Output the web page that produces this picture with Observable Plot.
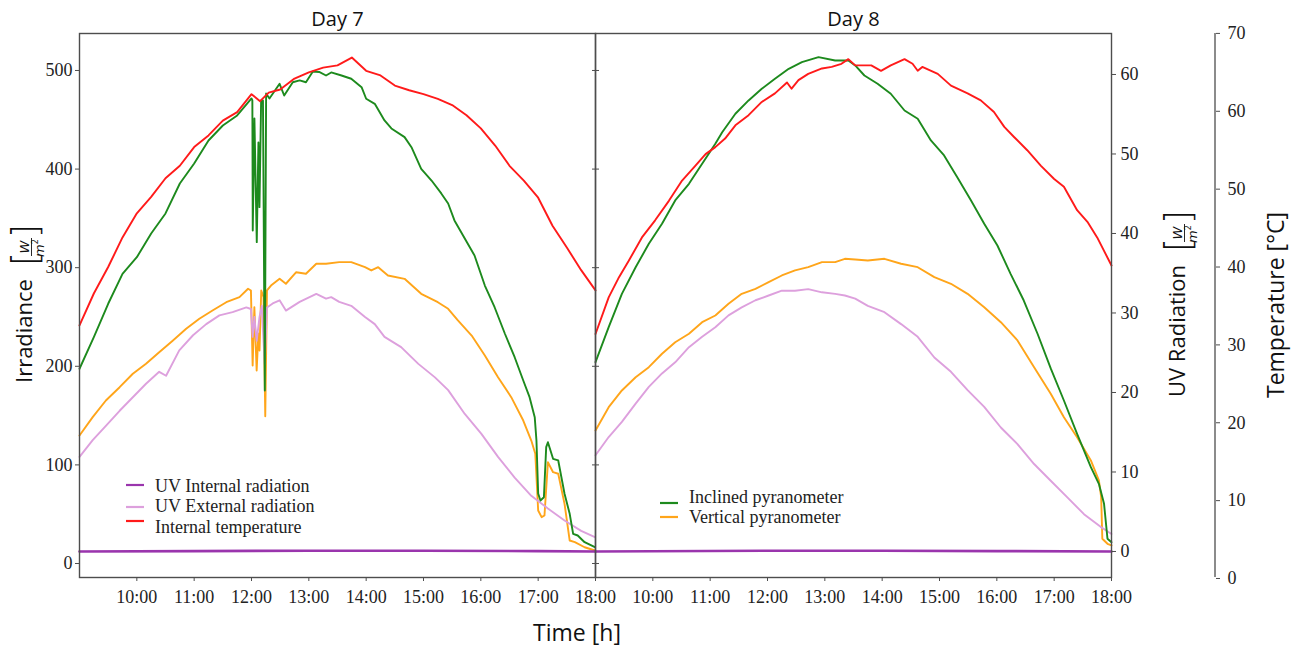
<!DOCTYPE html>
<html>
<head>
<meta charset="utf-8">
<script src="https://cdn.jsdelivr.net/npm/d3@7"></script>
<script src="https://cdn.jsdelivr.net/npm/@observablehq/plot@0.6"></script>
<style>
html,body{margin:0;padding:0;background:#fff;}
#chart{width:1299px;height:648px;}
</style>
</head>
<body>
<div id="chart"></div>
<script>
// ---------- categories ----------
const dayNames = ["Day 7", "Day 8"];
const seriesNames = ["UV Internal radiation", "UV External radiation", "Internal temperature", "Inclined pyranometer", "Vertical pyranometer"];
const seriesColors = ["#9a35ad", "#dda0dd", "#ff1a1a", "#1d8a1d", "#ffa51a"];
const leftLegend = ["UV Internal radiation", "UV External radiation", "Internal temperature"];
const rightLegend = ["Inclined pyranometer", "Vertical pyranometer"];

// ---------- tick labels ----------
const timeTicks = [10, 11, 12, 13, 14, 15, 16, 17, 18];
const irradianceTicks = [0, 100, 200, 300, 400, 500];
const uvTicks = [0, 10, 20, 30, 40, 50, 60];
const temperatureTicks = [0, 10, 20, 30, 40, 50, 60, 70];

// ---------- Day 7 series: [hour, value] ----------
// Internal temperature [°C]
const day7Temperature = [[9,32.5],[9.25,36.6],[9.5,40.0],[9.75,43.8],[10,46.9],[10.25,49.0],[10.5,51.4],[10.75,53.0],[11,55.4],[11.25,56.9],[11.5,58.8],[11.75,59.9],[12,62.2],[12.15,61.3],[12.3,62.4],[12.5,62.8],[12.75,64.2],[13,65.0],[13.25,65.6],[13.5,65.9],[13.75,66.9],[14,65.2],[14.25,64.6],[14.5,63.3],[14.75,62.7],[15,62.2],[15.25,61.6],[15.5,60.8],[15.75,59.5],[16,57.8],[16.25,55.6],[16.5,53.0],[16.75,51.1],[17,48.9],[17.25,45.3],[17.5,42.5],[17.75,39.6],[18,37.0]];
// Inclined pyranometer [W/m2]
const day7Inclined = [[9,197.5],[9.25,229.5],[9.5,263.4],[9.75,293.8],[10,310.6],[10.25,334.7],[10.5,355.0],[10.75,385.4],[11,405.7],[11.25,429.0],[11.5,444.2],[11.75,454.4],[12,471.6],[12.015,469.6],[12.022,337.7],[12.051,451.3],[12.092,325.9],[12.121,427.0],[12.139,361.4],[12.168,469.6],[12.2,469.6],[12.232,175.5],[12.255,476.7],[12.313,471.6],[12.49,486.5],[12.57,474.6],[12.72,488.1],[12.84,489.9],[12.95,488.1],[13.07,499.0],[13.18,498.5],[13.3,494.9],[13.39,498.0],[13.57,494.9],[13.74,491.6],[13.92,483.1],[14,471.3],[14.15,466.2],[14.32,449.3],[14.44,441.2],[14.67,432.4],[14.79,422.2],[14.96,400.3],[15.14,388.4],[15.31,375.3],[15.43,365.1],[15.54,347.9],[15.72,329.6],[15.89,312.4],[16.07,281.9],[16.24,259.9],[16.42,233.0],[16.59,209.2],[16.74,185.6],[16.85,168.7],[16.94,148.4],[16.97,124.7],[17,71.0],[17.04,63.9],[17.1,67.2],[17.14,118.0],[17.17,123.0],[17.26,106.2],[17.35,104.5],[17.46,70.7],[17.55,50.4],[17.61,30.1],[17.69,28.4],[17.81,21.6],[17.99,16.5]];
// Vertical pyranometer [W/m2]
const day7Vertical = [[9,129.8],[9.23,148.4],[9.46,165.3],[9.7,178.8],[9.93,192.4],[10.16,202.5],[10.39,214.3],[10.63,226.2],[10.86,238.0],[11.09,248.2],[11.32,256.6],[11.56,265.0],[11.79,270.1],[11.94,278.6],[11.99,276.9],[12.02,200.8],[12.05,259.9],[12.09,195.7],[12.12,233.3],[12.14,216.0],[12.17,276.9],[12.21,270.1],[12.24,149.4],[12.27,276.9],[12.34,281.9],[12.49,288.7],[12.6,283.7],[12.78,295.4],[12.95,293.8],[13.13,304.0],[13.3,304.0],[13.53,305.6],[13.74,305.6],[13.98,300.5],[14.09,297.2],[14.21,300.5],[14.38,292.1],[14.67,288.7],[14.96,273.5],[15.25,265.0],[15.43,258.3],[15.6,246.5],[15.84,231.2],[16.07,211.0],[16.3,188.9],[16.53,168.7],[16.74,145.0],[16.88,124.7],[16.95,111.3],[17,53.8],[17.06,47.0],[17.11,48.7],[17.17,102.7],[17.26,92.6],[17.35,91.0],[17.46,60.5],[17.55,23.3],[17.64,21.6],[17.81,16.5],[17.99,13.2]];
// UV external radiation [W/m2]
const day7UvExternal = [[9,11.9],[9.23,14.0],[9.46,15.8],[9.7,17.7],[9.93,19.4],[10.16,21.1],[10.39,22.6],[10.51,22.1],[10.74,25.3],[10.98,27.2],[11.21,28.6],[11.44,29.7],[11.67,30.1],[11.91,30.7],[11.99,30.5],[12.02,27.0],[12.05,29.5],[12.09,26.5],[12.14,29.5],[12.18,30.9],[12.23,23.6],[12.27,30.7],[12.37,31.2],[12.49,31.6],[12.6,30.3],[12.84,31.4],[13.13,32.4],[13.3,31.8],[13.39,32.0],[13.53,31.4],[13.74,30.9],[13.98,29.5],[14.15,28.6],[14.32,27.0],[14.61,25.7],[14.91,23.6],[15.2,21.9],[15.43,20.3],[15.72,17.3],[16.01,14.8],[16.3,11.9],[16.59,9.3],[16.88,7.0],[17.17,5.4],[17.46,3.9],[17.75,2.6],[17.99,1.8]];
// UV internal radiation [W/m2]
const day7UvInternal = [[9,0],[11,0.05],[13,0.1],[15,0.1],[17,0.05],[18,0]];

// ---------- Day 8 series ----------
const day8Temperature = [[9,31.4],[9.23,36.1],[9.41,38.7],[9.58,40.8],[9.81,43.8],[10.04,46.0],[10.28,48.5],[10.51,51.1],[10.74,53.0],[10.92,54.5],[11.09,55.4],[11.26,56.5],[11.44,58.2],[11.67,59.5],[11.9,61.2],[12.13,62.3],[12.34,63.7],[12.42,62.9],[12.54,64.0],[12.71,64.8],[12.95,65.5],[13.12,65.7],[13.29,66.1],[13.41,66.7],[13.53,65.9],[13.63,65.9],[13.81,65.9],[13.98,65.2],[14.15,65.9],[14.39,66.7],[14.53,66.1],[14.62,65.2],[14.7,65.7],[14.97,64.8],[15.2,63.3],[15.49,62.3],[15.72,61.4],[15.95,59.9],[16.13,58.0],[16.3,56.7],[16.53,55.0],[16.77,53.0],[17,51.3],[17.17,50.3],[17.4,47.3],[17.58,45.8],[17.75,43.8],[18,40.2]];
const day8Inclined = [[9,204.2],[9.23,239.7],[9.46,273.5],[9.7,300.5],[9.93,324.2],[10.16,344.5],[10.39,368.2],[10.63,385.1],[10.86,405.4],[11.09,425.7],[11.21,437.4],[11.44,456.1],[11.67,469.6],[11.9,481.4],[12.13,491.6],[12.37,501.7],[12.6,508.4],[12.89,513.5],[13.18,510.1],[13.41,510.1],[13.53,505.1],[13.69,494.9],[13.92,486.5],[14.15,476.4],[14.39,459.4],[14.62,451.0],[14.85,429.0],[15.08,413.8],[15.31,391.8],[15.55,368.2],[15.78,344.5],[16.01,322.5],[16.24,293.8],[16.47,266.7],[16.71,233.0],[16.94,197.8],[17.17,165.3],[17.4,131.5],[17.64,97.7],[17.78,80.8],[17.87,60.5],[17.93,25.1],[18,21.6]];
const day8Vertical = [[9,134.9],[9.23,158.5],[9.46,175.5],[9.7,188.9],[9.93,199.1],[10.16,212.7],[10.39,224.4],[10.63,233.0],[10.86,244.7],[11.09,251.5],[11.32,263.4],[11.55,273.5],[11.79,278.6],[12.02,285.3],[12.25,292.1],[12.48,297.2],[12.71,300.5],[12.95,305.6],[13.18,305.6],[13.35,309.0],[13.53,308.3],[13.75,307.3],[14.04,309.0],[14.33,304.0],[14.62,300.5],[14.91,290.4],[15.2,283.7],[15.49,273.5],[15.78,259.9],[16.07,244.7],[16.36,226.2],[16.65,199.1],[16.94,172.1],[17.17,148.4],[17.4,128.1],[17.64,104.5],[17.78,84.2],[17.82,67.2],[17.84,25.1],[17.93,20.0],[18,18.3]];
const day8UvExternal = [[9,12.1],[9.23,14.4],[9.46,16.3],[9.7,18.6],[9.93,20.7],[10.16,22.4],[10.39,23.8],[10.63,25.7],[10.86,27.0],[11.09,28.2],[11.32,29.7],[11.55,30.7],[11.79,31.6],[12.02,32.2],[12.25,32.8],[12.48,32.8],[12.71,33.0],[12.95,32.6],[13.18,32.4],[13.35,32.2],[13.53,31.8],[13.75,30.9],[14.04,30.1],[14.33,28.6],[14.62,27.0],[14.91,24.4],[15.2,22.6],[15.49,20.3],[15.78,18.2],[16.07,15.6],[16.36,13.5],[16.65,11.0],[16.94,8.9],[17.23,6.8],[17.52,4.7],[17.81,3.1],[18,2.2]];
const day8UvInternal = [[9,0],[12,0.1],[14,0.1],[16,0.05],[18,0]];

// ---------- secondary-axis mapping onto the irradiance scale ----------
const uvToIrr = u => 12.17 + 8.063 * u;
const irrToUv = v => (v - 12.17) / 8.063;
const tempToIrr = t => -15.21 + 7.897 * t;
const irrToTemp = v => (v + 15.21) / 7.897;
const ident = v => v;

function rows(day, series, pairs, conv) {
  return pairs.map(([t, v]) => ({day, series, t, v: conv(v)}));
}
const data = {
  "Vertical pyranometer": [...rows("Day 7", "Vertical pyranometer", day7Vertical, ident), ...rows("Day 8", "Vertical pyranometer", day8Vertical, ident)],
  "UV External radiation": [...rows("Day 7", "UV External radiation", day7UvExternal, uvToIrr), ...rows("Day 8", "UV External radiation", day8UvExternal, uvToIrr)],
  "Inclined pyranometer": [...rows("Day 7", "Inclined pyranometer", day7Inclined, ident), ...rows("Day 8", "Inclined pyranometer", day8Inclined, ident)],
  "Internal temperature": [...rows("Day 7", "Internal temperature", day7Temperature, tempToIrr), ...rows("Day 8", "Internal temperature", day8Temperature, tempToIrr)],
  "UV Internal radiation": [...rows("Day 7", "UV Internal radiation", day7UvInternal, uvToIrr), ...rows("Day 8", "UV Internal radiation", day8UvInternal, uvToIrr)]
};
const colorOf = s => seriesColors[seriesNames.indexOf(s)];
const drawOrder = ["Vertical pyranometer", "UV External radiation", "Inclined pyranometer", "Internal temperature", "UV Internal radiation"];

const axisGray = "#4d4d4d";
const serif = "'Liberation Serif', 'Times New Roman', serif";
const sans = "'Open Sans', 'DejaVu Sans', sans-serif";

const lineMarks = drawOrder.map(s => Plot.line(data[s], {
  fx: "day", x: "t", y: "v", stroke: colorOf(s),
  strokeWidth: s === "UV Internal radiation" ? 2.6 : 1.9, curve: "linear"
}));

const svg = Plot.plot({
  width: 1299,
  height: 648,
  marginTop: 33,
  marginBottom: 71,
  marginLeft: 78,
  marginRight: 188,
  style: {fontFamily: serif, fontSize: "18px", color: "#222", background: "#fff", overflow: "visible"},
  fx: {domain: dayNames, padding: 0, axis: null},
  x: {domain: [9, 18], axis: null},
  y: {domain: [-14.2, 537.5], axis: null},
  marks: [
    ...lineMarks,
    Plot.frame({stroke: axisGray, strokeWidth: 1.4}),
    Plot.text(dayNames, {fx: d => d, text: d => d, frameAnchor: "top", lineAnchor: "middle", dy: -14, fontSize: 20, fontFamily: sans, fill: "#111"}),
    Plot.axisX(timeTicks, {anchor: "bottom", tickSize: 4, tickPadding: 9, tickFormat: d => `${d}:00`, label: null, stroke: axisGray, fontSize: 18, fontFamily: serif}),
    Plot.axisY(irradianceTicks, {anchor: "left", tickSize: 4, tickPadding: 3, label: null, stroke: axisGray, fontSize: 18, fontFamily: serif}),
    Plot.axisY(irradianceTicks, {anchor: "left", facetAnchor: "right", tickSize: -4, tickFormat: () => "", label: null, stroke: axisGray}),
    Plot.axisY(irradianceTicks, {anchor: "right", facetAnchor: "left", tickSize: -4, tickFormat: () => "", label: null, stroke: axisGray}),
    Plot.axisY(uvTicks.map(uvToIrr), {anchor: "right", tickSize: 4, tickPadding: 5, tickFormat: d => String(Math.round(irrToUv(d))), label: null, stroke: axisGray, fontSize: 18, fontFamily: serif}),
    Plot.axisY(temperatureTicks.map(tempToIrr), {anchor: "right", dx: 104, tickSize: 4, tickPadding: 8, tickFormat: d => String(Math.round(irrToTemp(d))), label: null, stroke: axisGray, fontSize: 18, fontFamily: serif})
  ]
});
document.getElementById("chart").append(svg);

// ---------- annotations: temperature spine, axis titles, legends ----------
const s = d3.select(svg);
s.append("line").attr("x1", 1215).attr("x2", 1215).attr("y1", 33).attr("y2", 577)
  .attr("stroke", axisGray).attr("stroke-width", 1.3);

function rotatedLabel(x, y, word, size, fracStart) {
  const g = s.append("g").attr("transform", `translate(${x},${y}) rotate(-90)`).attr("fill", "#111").attr("text-anchor", "start");
  g.append("text").attr("text-anchor", "start").attr("font-family", sans).attr("font-size", size).text(word);
  const b0 = fracStart;
  const math = "'DejaVu Sans', sans-serif";
  g.append("text").attr("text-anchor", "start").attr("x", b0).attr("y", 5).attr("font-family", math).attr("font-size", 36).attr("font-weight", 200).text("[");
  g.append("text").attr("x", b0 + 19).attr("y", -3).attr("text-anchor", "middle").attr("font-family", math).attr("font-style", "italic").attr("font-size", 13).text("W");
  g.append("line").attr("x1", b0 + 10).attr("x2", b0 + 28).attr("y1", -0.5).attr("y2", -0.5).attr("stroke", "#111").attr("stroke-width", 0.9);
  const m = g.append("text").attr("x", b0 + 18).attr("y", 12).attr("text-anchor", "middle").attr("font-family", math).attr("font-style", "italic").attr("font-size", 13);
  m.append("tspan").text("m");
  m.append("tspan").attr("font-size", 8).attr("dy", -6).attr("font-style", "normal").text("2");
  g.append("text").attr("text-anchor", "start").attr("x", b0 + 28).attr("y", 5).attr("font-family", math).attr("font-size", 36).attr("font-weight", 200).text("]");
}
rotatedLabel(32, 383, "Irradiance", 22, 117);
rotatedLabel(1185, 397, "UV Radiation", 22, 145);

s.append("text").attr("transform", "translate(1284,305) rotate(-90)").attr("text-anchor", "middle")
  .attr("font-family", sans).attr("font-size", 23).attr("fill", "#111").text("Temperature [°C]");
s.append("text").attr("x", 577).attr("y", 641).attr("text-anchor", "middle")
  .attr("font-family", sans).attr("font-size", 23).attr("fill", "#111").text("Time [h]");

function legend(names, x0, swatchY, textY) {
  names.forEach((n, i) => {
    s.append("line").attr("x1", x0).attr("x2", x0 + 18).attr("y1", swatchY[i]).attr("y2", swatchY[i])
      .attr("stroke", colorOf(n)).attr("stroke-width", 2.2);
    s.append("text").attr("x", x0 + 29).attr("y", textY[i]).attr("dy", "0.35em").attr("text-anchor", "start")
      .attr("font-family", serif).attr("font-size", 18).attr("fill", "#222").text(n);
  });
}
legend(leftLegend, 126, [485, 507, 521], [486, 506, 527]);
legend(rightLegend, 660, [503, 517], [497, 517]);
</script>
</body>
</html>
